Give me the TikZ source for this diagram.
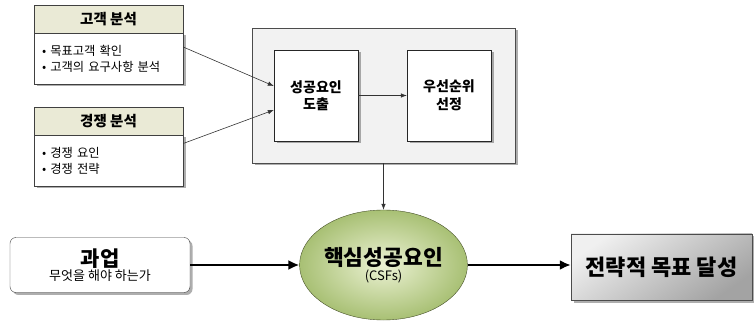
\documentclass[tikz,border=0pt]{standalone}
\usepackage{fontspec}
\setmainfont{Noto Sans CJK KR}
\usepackage{tikz}
\usetikzlibrary{shapes.geometric,shadows,arrows.meta}

\definecolor{headfill}{RGB}{234,234,214}
\definecolor{csfin}{RGB}{236,242,212}
\definecolor{csfout}{RGB}{168,192,116}
\definecolor{csfline}{RGB}{70,80,40}

\tikzset{
  shd/.style={drop shadow={shadow xshift=2.5pt,shadow yshift=-2.5pt,opacity=.45,fill=black!70}},
  headbox/.style={draw=black!75,fill=headfill,minimum width=149pt,minimum height=28pt,
    inner sep=0pt,font=\bfseries\fontsize{14.5}{16}\selectfont},
  bodybox/.style={draw=black!75,fill=white,minimum width=149pt,minimum height=51pt,inner xsep=8pt,
    text width=133pt,align=left,font=\fontsize{12.3}{16}\selectfont},
  stepbox/.style={draw=black!85,fill=white,shd,minimum width=84pt,minimum height=91pt,
    align=center,font=\bfseries\fontsize{14}{17.5}\selectfont},
  arr/.style={-{Latex[length=6pt,width=4.5pt]},black!80,line width=.6pt},
  bigarr/.style={-{Latex[length=11pt,width=10pt]},black,line width=2.6pt},
}

\begin{document}
\begin{tikzpicture}[x=1pt,y=-1pt]
        \useasboundingbox (0,0) rectangle (754,328);
        % analysis boxes on the left
        \node (cuBody) [bodybox,shd] at (108.5, 58.5) {• 목표고객 확인\\• 고객의 요구사항 분석};
        \node (cuHead) [headbox] at (108.5, 19) {고객 분석};
        \node (coBody) [bodybox,shd] at (108.5, 160.5) {• 경쟁 요인\\• 경쟁 전략};
        \node (coHead) [headbox] at (108.5, 121) {경쟁 분석};
        % process frame
        \node (frame) [draw=black!70,fill=black!5,shd,minimum width=263pt,minimum height=135pt] at (383.5, 95.5) {};
        \node (sf) [stepbox] at (316, 95.5) {성공요인\\도출};
        \node (pr) [stepbox] at (449, 95.5) {우선순위\\선정};
        % bottom row
        \node (task) [draw=black!75,fill=white,rounded corners=6pt,shd,minimum width=180pt,minimum height=55pt,
                align=center,inner sep=0pt] at (100, 265)
                {{\bfseries\fontsize{21}{23}\selectfont 과업}\\{\fontsize{13}{15}\selectfont 무엇을 해야 하는가}};
        \node (csf) [ellipse,draw=csfline,inner color=csfin,outer color=csfout,
                minimum width=157pt,minimum height=110pt,align=center,inner sep=0pt] at (383.5, 265)
                {{\bfseries\fontsize{21.5}{23}\selectfont 핵심성공요인}\\[1pt]{\fontsize{13}{15}\selectfont (CSFs)}};
        \node (goal) [draw=black!70,top color=black!6,bottom color=black!36,shading angle=35,shd,
                minimum width=181pt,minimum height=66pt,font=\bfseries\fontsize{22}{24}\selectfont] at (661.5, 267)
                {전략적 목표 달성};
        % connectors
        \draw ([yshift=11.5pt]cuBody.east) edge [arr] ([yshift=9.5pt]sf.west);
        \draw ([yshift=17pt]coBody.east) edge [arr] ([yshift=-14.5pt]sf.west);
        \draw (sf) edge [arr] (pr);
        \draw (frame.south) edge [arr] (csf.north);
        \draw (task) edge [bigarr] (csf);
        \draw (csf) edge [bigarr] (goal.west |- csf.east);
\end{tikzpicture}
\end{document}
